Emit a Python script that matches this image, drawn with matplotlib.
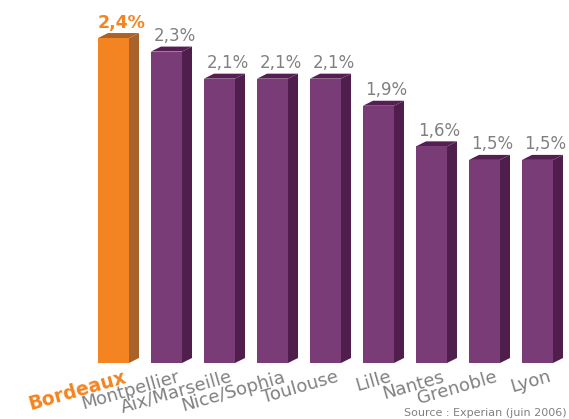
import matplotlib
matplotlib.use('Agg')
import matplotlib.pyplot as plt
from matplotlib.patches import Polygon

cities = ['Bordeaux', 'Montpellier', 'Aix/Marseille', 'Nice/Sophia', 'Toulouse',
          'Lille', 'Nantes', 'Grenoble', 'Lyon']
values = [2.4, 2.3, 2.1, 2.1, 2.1, 1.9, 1.6, 1.5, 1.5]
labels = ['2,4%', '2,3%', '2,1%', '2,1%', '2,1%', '1,9%', '1,6%', '1,5%', '1,5%']

front_col = ['#F38421'] + ['#7A3C77'] * 8
side_col = ['#A8622A'] + ['#4F1E4C'] * 8
top_col = ['#A8622A'] + ['#561F53'] * 8
text_col = ['#F38421'] + ['#808080'] * 8
grey = '#808080'

plt.rcParams['font.family'] = ['DejaVu Sans']

fig = plt.figure(figsize=(5.69, 4.19), dpi=100)
ax = fig.add_axes([0, 0, 1, 1])
# 53 px per category, 135.4 px per percent point, baseline 56 px from bottom
ax.set_xlim(-113.5 / 53, (569 - 113.5) / 53)
ax.set_ylim(-56 / 135.4, (419 - 56) / 135.4)
ax.axis('off')

w = 0.585
dx = 10 / 53
dy = 5 / 135.4

x = list(range(len(cities)))
ax.bar(x, values, width=w, color=front_col, zorder=3)

for i, v in enumerate(values):
    x0 = i - w / 2
    x1 = i + w / 2
    # side face
    ax.add_patch(Polygon([(x1, 0), (x1 + dx, dy), (x1 + dx, v + dy), (x1, v)],
                         closed=True, facecolor=side_col[i], edgecolor='none', zorder=2))
    # top face
    ax.add_patch(Polygon([(x0, v), (x1, v), (x1 + dx, v + dy), (x0 + dx, v + dy)],
                         closed=True, facecolor=top_col[i], edgecolor='none', zorder=2))
    bold = 'bold' if i == 0 else 'normal'
    ax.text(i + 0.15, v + dy + 0.04, labels[i], ha='center', va='baseline',
            fontsize=12.5 if i == 0 else 12, fontweight=bold, color=text_col[i])
    ax.text(i + 0.19, -0.035, cities[i], ha='right', va='top', rotation=16,
            rotation_mode='anchor', fontsize=13.5 if i == 0 else 13,
            fontweight=bold, color=text_col[i])

fig.text(0.995, 0.007, 'Source : Experian (juin 2006)', ha='right', va='baseline',
         fontsize=8, color=grey)

plt.savefig('out.png', dpi=100)
